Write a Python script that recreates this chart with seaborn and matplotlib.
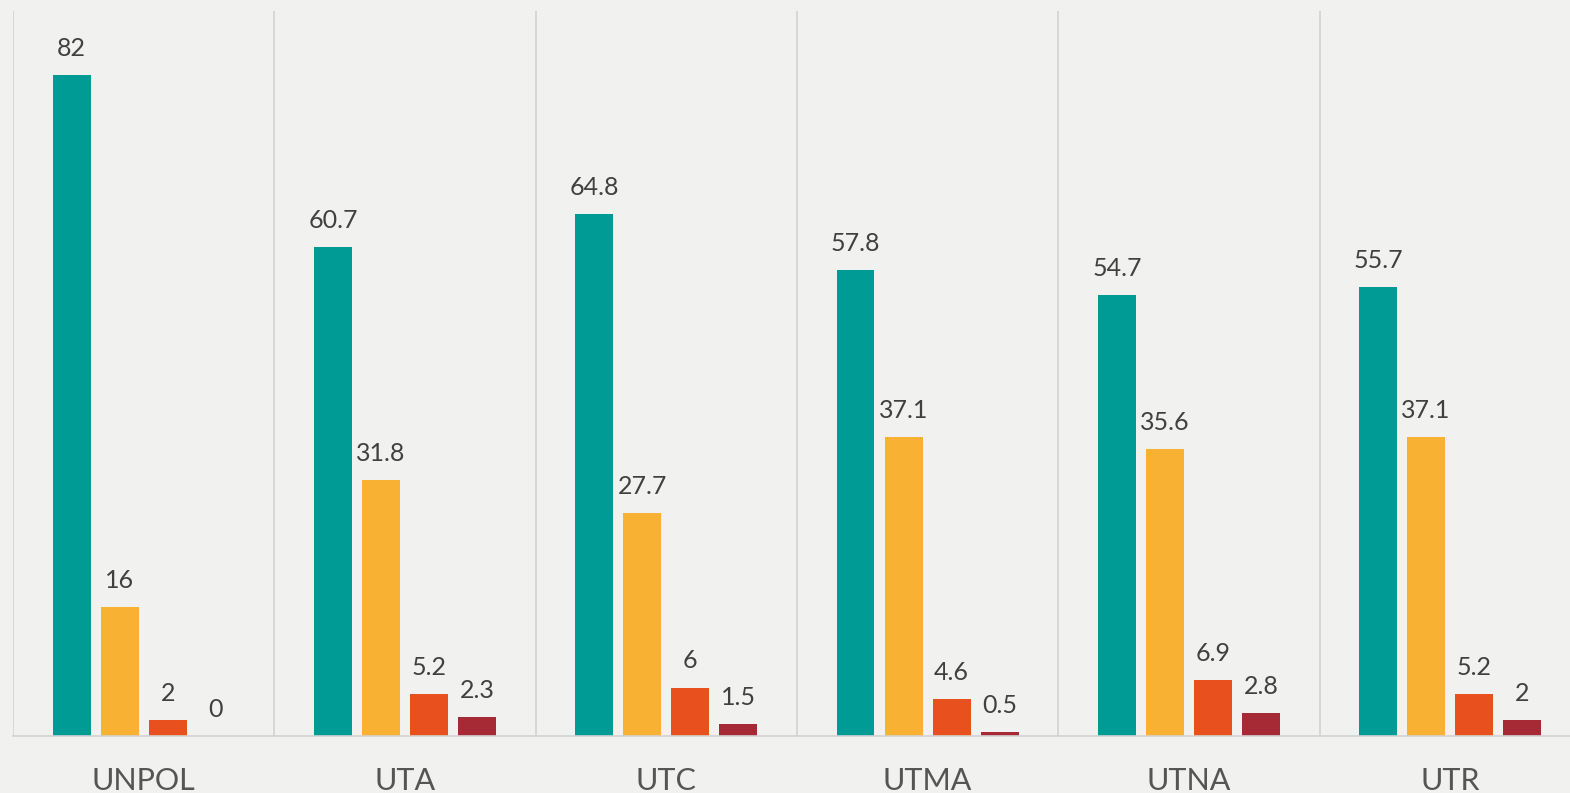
import matplotlib
matplotlib.use("Agg")
import matplotlib.pyplot as plt
import seaborn as sns
import pandas as pd

categories = ["UNPOL", "UTA", "UTC", "UTMA", "UTNA", "UTR"]
series_names = ["S1", "S2", "S3", "S4"]
s1 = [82, 60.7, 64.8, 57.8, 54.7, 55.7]
s2 = [16, 31.8, 27.7, 37.1, 35.6, 37.1]
s3 = [2, 5.2, 6, 4.6, 6.9, 5.2]
s4 = [0, 2.3, 1.5, 0.5, 2.8, 2]
colors = ["#009B94", "#F8B133", "#E8501E", "#A52A36"]

rows = []
for name, vals in zip(series_names, [s1, s2, s3, s4]):
    for c, v in zip(categories, vals):
        rows.append({"cat": c, "series": name, "value": v})
df = pd.DataFrame(rows)

sns.set_theme(style="white")
plt.rcParams["font.family"] = ["Lato", "DejaVu Sans"]

bg = "#f1f1f0"
fig = plt.figure(figsize=(15.70, 7.93), dpi=100, facecolor=bg)
ax = fig.add_axes([13 / 1570, 57 / 793, (6 * 261.3) / 1570, (736 - 11) / 793])
ax.set_facecolor(bg)

sns.barplot(data=df, x="cat", y="value", hue="series", order=categories,
            hue_order=series_names, palette=colors, width=0.735, gap=0.21,
            legend=False, ax=ax, saturation=1, linewidth=0, edgecolor="none")

for cont in ax.containers:
    labels = [f"{v:g}" for v in cont.datavalues]
    ax.bar_label(cont, labels=labels, padding=11, fontsize=18, color="#404040")

ax.set_ylim(0, 90)
ax.set_xlim(-0.5, len(categories) - 0.5)
ax.vlines([i - 0.5 for i in range(len(categories) + 1)], 0, 90,
          colors="#d2d2d2", linewidth=1.2, zorder=0)

for s in ["top", "right", "left"]:
    ax.spines[s].set_visible(False)
ax.spines["bottom"].set_color("#d2d2d2")
ax.spines["bottom"].set_linewidth(1.2)

ax.set_yticks([])
ax.set_xlabel("")
ax.set_ylabel("")
ax.tick_params(axis="x", length=0, pad=22, labelsize=22, labelcolor="#555555")

fig.savefig("out.png", dpi=100, facecolor=bg)
